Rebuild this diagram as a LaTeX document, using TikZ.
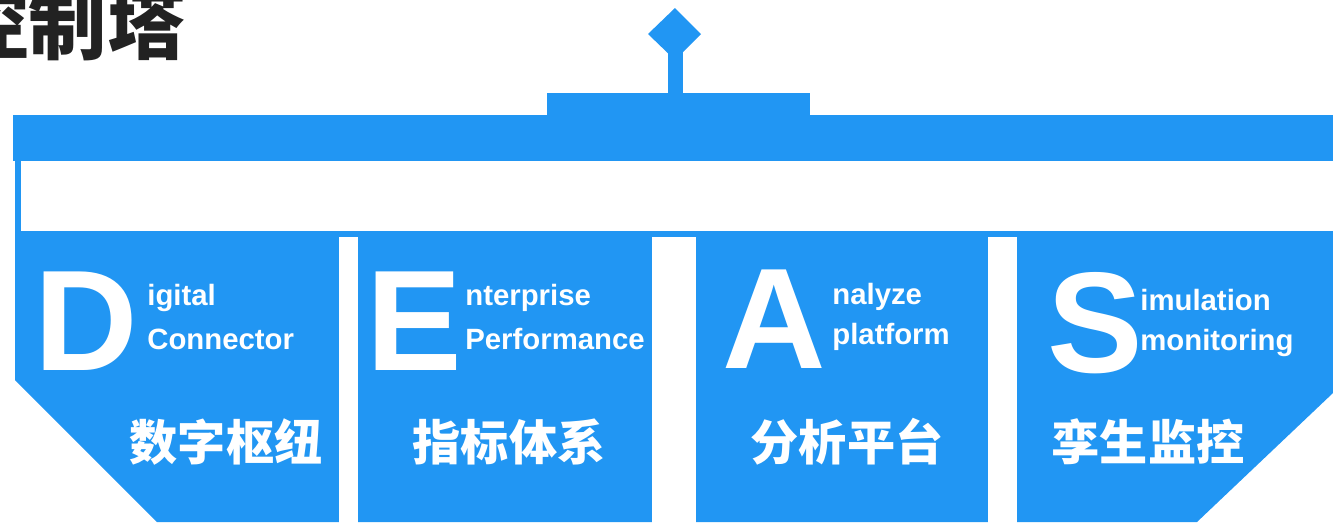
\documentclass[tikz,border=0pt]{standalone}
\usepackage{fontspec}
\setmainfont{Liberation Sans}
\newfontfamily\cjk{Noto Sans CJK SC}
\definecolor{tblue}{HTML}{2196F3}
\definecolor{tdark}{HTML}{222222}
\begin{document}
\begin{tikzpicture}[x=0.02cm,y=-0.02cm,
  fillblue/.style={fill=tblue,draw=none},
  gapwhite/.style={fill=white,draw=none},
  bigletter/.style={anchor=base west,inner sep=0pt,text=white,font=\bfseries\fontsize{81.6}{90}\selectfont},
  subtext/.style={anchor=base west,inner sep=0pt,text=white,font=\bfseries\fontsize{16.7}{20}\selectfont},
  cnlabel/.style={anchor=base,inner sep=0pt,text=white,font=\cjk\bfseries\fontsize{27.4}{32}\selectfont},
  titletext/.style={anchor=base west,inner sep=0pt,text=tdark,font=\cjk\bfseries\fontsize{44.6}{52}\selectfont}]
\useasboundingbox (0,0) rectangle (1333,522);
\clip (0,0) rectangle (1333,522);
% title
\node[titletext] (title) at (-50,53) {控制塔};
% antenna
\fill[fillblue] (675,8) -- (701,34) -- (675,60) -- (648,34) -- cycle;
\fill[fillblue] (668,50) rectangle (683,94);
\fill[fillblue] (547,93) rectangle (810,116);
% top bar
\fill[fillblue] (13,115) rectangle (1333,161);
\fill[fillblue] (15,160) rectangle (21,232);
% lower body
\fill[fillblue] (15,231) -- (1333,231) -- (1333,393) -- (1197,522) -- (157,522) -- (15,380) -- cycle;
\fill[gapwhite] (339,237) rectangle (358,523);
\fill[gapwhite] (652,237) rectangle (696,523);
\fill[gapwhite] (988,237) rectangle (1017,523);
% panel D
\node[bigletter] (bigD) at (34,370) {D};
\node[subtext] (d1) at (147,305) {igital};
\node[subtext] (d2) at (147,349) {Connector};
\node[cnlabel] (dcn) at (226,460) {数字枢纽};
% panel E
\node[bigletter] (bigE) at (366,370) {E};
\node[subtext] (e1) at (465,305) {nterprise};
\node[subtext] (e2) at (465,349) {Performance};
\node[cnlabel] (ecn) at (509,460) {指标体系};
% panel A
\node[bigletter] (bigA) at (722,368) {A};
\node[subtext] (a1) at (832,304) {nalyze};
\node[subtext] (a2) at (832,344) {platform};
\node[cnlabel] (acn) at (847,460) {分析平台};
% panel S
\node[bigletter] (bigS) at (1047,372) {S};
\node[subtext] (s1) at (1140,310) {imulation};
\node[subtext] (s2) at (1140,350) {monitoring};
\node[cnlabel] (scn) at (1148,460) {孪生监控};
\end{tikzpicture}
\end{document}
